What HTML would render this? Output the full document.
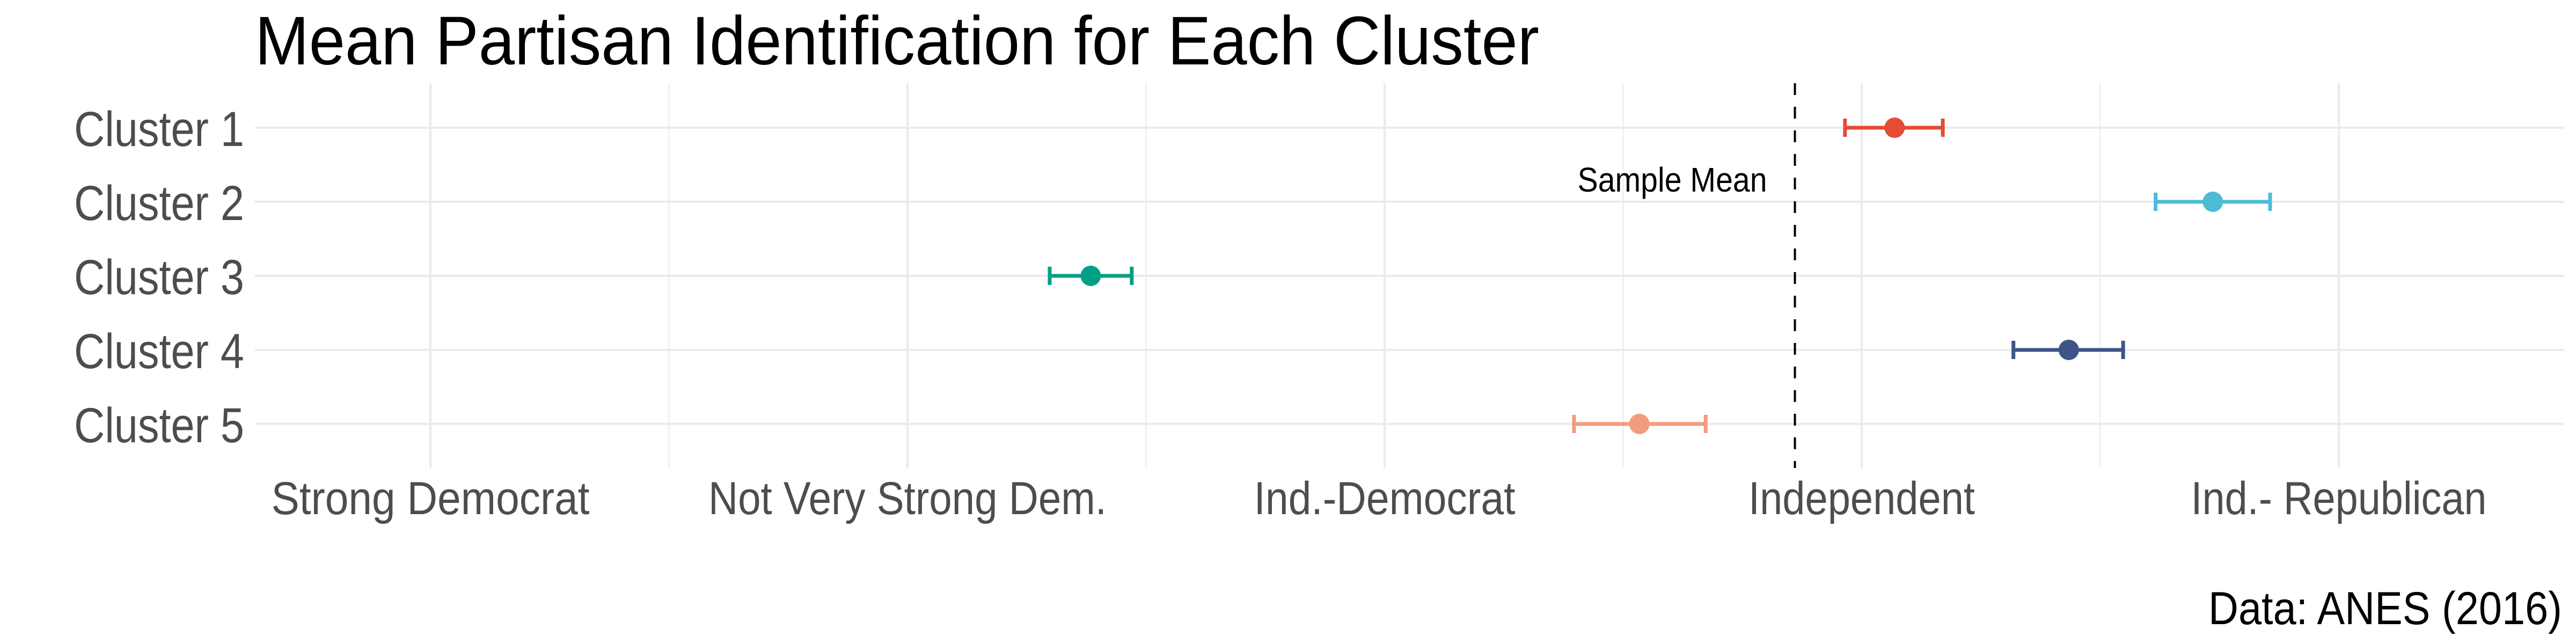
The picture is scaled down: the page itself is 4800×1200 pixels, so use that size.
<!DOCTYPE html>
<html><head><meta charset="utf-8"><style>
html,body{margin:0;padding:0;background:#fff;}
svg{display:block;}
text{font-family:"Liberation Sans","DejaVu Sans",sans-serif;}
</style></head><body>
<svg id="chart" width="4800" height="1200" viewBox="0 0 4800 1200" xmlns="http://www.w3.org/2000/svg">
<rect x="0" y="0" width="4800" height="1200" fill="#fff"/>
<text x="475" y="120" font-size="128" fill="#000" textLength="2393" lengthAdjust="spacingAndGlyphs">Mean Partisan Identification for Each Cluster</text>
<g id="grid"></g>
<g id="marks"></g>
<g id="axes"></g>
<text x="4774" y="1163" font-size="86" fill="#000" text-anchor="end" textLength="659" lengthAdjust="spacingAndGlyphs">Data: ANES (2016)</text>
</svg>
<script>
const clusters = ["Cluster 1","Cluster 2","Cluster 3","Cluster 4","Cluster 5"];
const means = [4.069, 4.736, 2.384, 4.434, 3.534];
const lowers = [3.965, 4.616, 2.298, 4.318, 3.397];
const uppers = [4.170, 4.856, 2.470, 4.548, 3.673];
const colors = ["#E64B35","#4DBBD5","#00A087","#3C5488","#F39B7F"];
const xTickValues = [1,2,3,4,5];
const xTickLabels = ["Strong Democrat","Not Very Strong Dem.","Ind.-Democrat","Independent","Ind.- Republican"];
const xLabelWidths = [593,742,487,422,551];
const sampleMean = 3.86;

const NS="http://www.w3.org/2000/svg";
const panel={left:475,right:4778,top:155,bottom:872};
function xScale(v){return 802+(v-1)*889;}
function yScale(i){return 238+i*138;}
function mk(tag,attrs,parent){const e=document.createElementNS(NS,tag);for(const k in attrs)e.setAttribute(k,attrs[k]);parent.appendChild(e);return e;}
const grid=document.getElementById('grid'),marks=document.getElementById('marks'),axes=document.getElementById('axes');

// minor vertical gridlines
for(let v=0.5; v<=5.5; v+=1){
  const x=xScale(v); if(x<panel.left||x>panel.right) continue;
  const l=mk('line',{x1:x,x2:x,y1:panel.top,y2:panel.bottom,stroke:'#ebebeb','stroke-width':2},grid);
  
  
}
xTickValues.forEach((v,i)=>{
  const x=xScale(v);
  const l=mk('line',{x1:x,x2:x,y1:panel.top,y2:panel.bottom,stroke:'#ebebeb','stroke-width':4},grid);
  
  
  const t=mk('text',{x:x,y:958,'font-size':86,fill:'#4d4d4d','text-anchor':'middle',textLength:xLabelWidths[i],lengthAdjust:'spacingAndGlyphs'},axes);
  t.textContent=xTickLabels[i];
  
  
});
clusters.forEach((c,i)=>{
  const y=yScale(i);
  const l=mk('line',{x1:panel.left,x2:panel.right,y1:y,y2:y,stroke:'#ebebeb','stroke-width':4},grid);
  
  
  const t=mk('text',{x:455,y:y+34,'font-size':92,fill:'#4d4d4d','text-anchor':'end',textLength:317,lengthAdjust:'spacingAndGlyphs'},axes);
  t.textContent=c;
  
  
});
// sample mean line
const sm=mk('line',{x1:xScale(sampleMean),x2:xScale(sampleMean),y1:panel.top,y2:panel.bottom,stroke:'#000','stroke-width':4,'stroke-dasharray':'22,22'},marks);


const st=mk('text',{x:xScale(sampleMean)-52,y:357,'font-size':64,fill:'#000','text-anchor':'end',textLength:353,lengthAdjust:'spacingAndGlyphs'},marks);
st.textContent='Sample Mean';



clusters.forEach((c,i)=>{
  const y=yScale(i),col=colors[i];
  const g=mk('g',{},marks);
  
  
  const bar=mk('line',{x1:xScale(lowers[i]),x2:xScale(uppers[i]),y1:y,y2:y,stroke:col,'stroke-width':7},g);
  
  
  [lowers[i],uppers[i]].forEach(v=>{
    const cap=mk('line',{x1:xScale(v),x2:xScale(v),y1:y-17,y2:y+17,stroke:col,'stroke-width':7},g);
    
    
  });
  const p=mk('circle',{cx:xScale(means[i]),cy:y,r:19,fill:col},g);
  
  
});
</script>
</body></html>
